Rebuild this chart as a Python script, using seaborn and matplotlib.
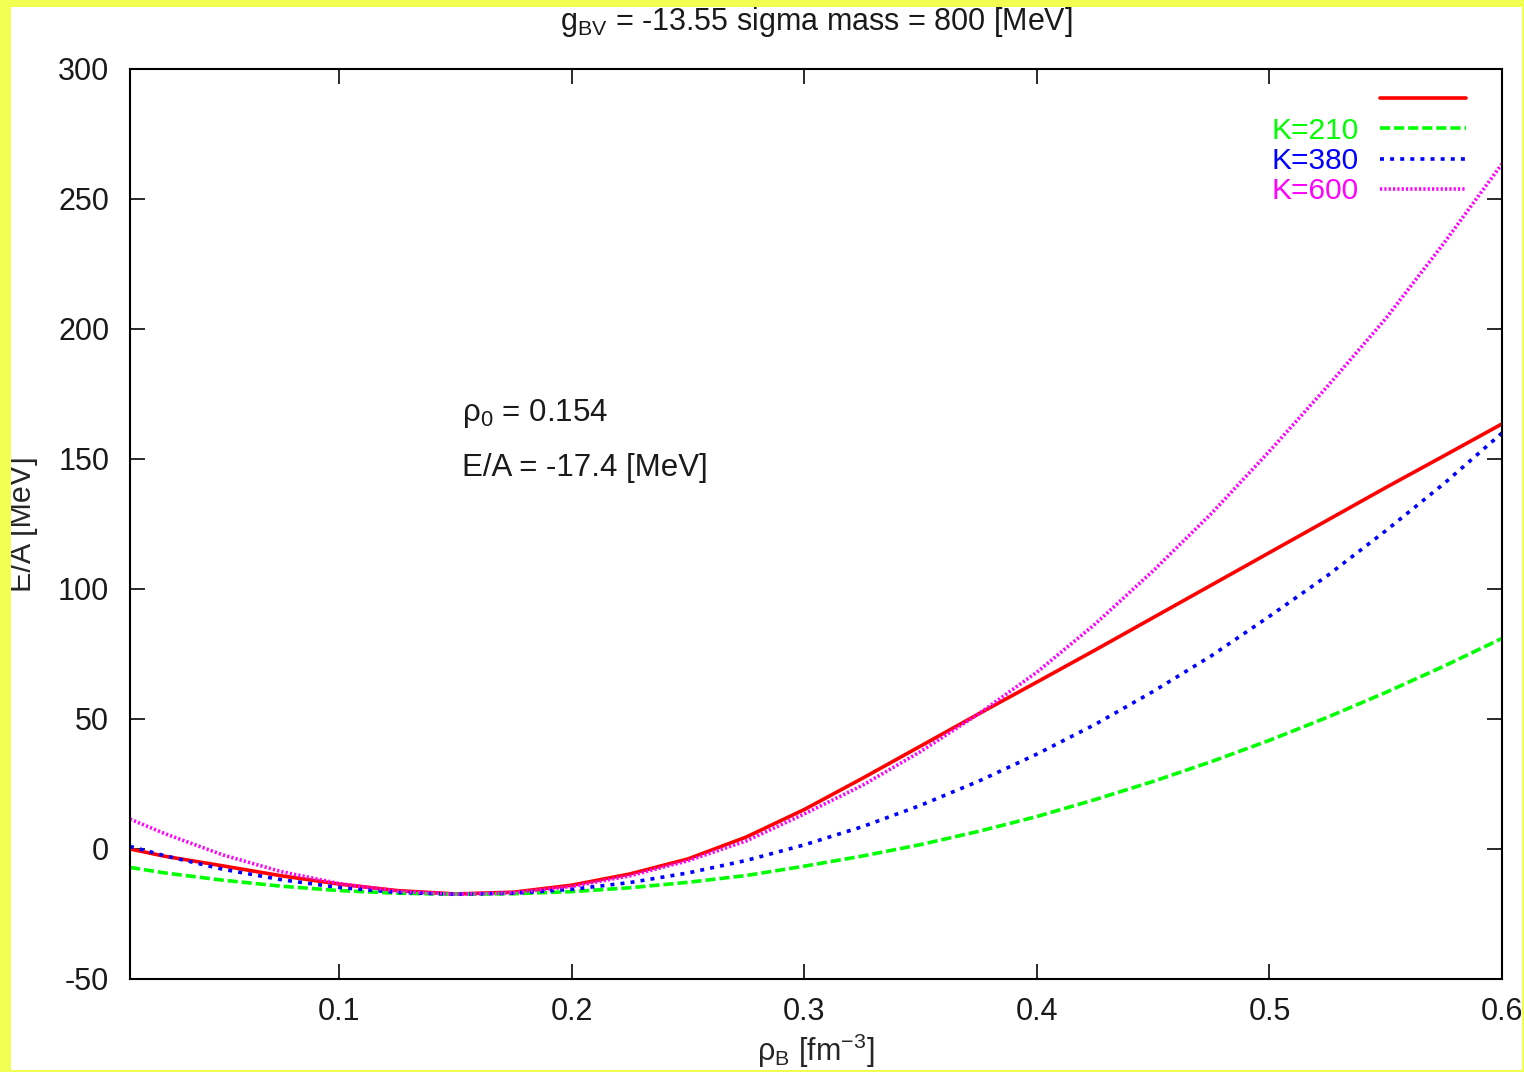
# curvas E/A vs densidad bariónica
import pandas as pd
import seaborn as sns
import matplotlib
matplotlib.use('Agg')
import matplotlib.pyplot as plt
from matplotlib.patches import Rectangle

# 1. Datos
rho = [0.01, 0.025, 0.05, 0.075, 0.1, 0.125, 0.15, 0.175, 0.2, 0.225, 0.25, 0.275,
       0.3, 0.325, 0.35, 0.375, 0.4, 0.425, 0.45, 0.475, 0.5, 0.525, 0.55, 0.575, 0.6]

ea_base = [0.0, -2.8, -6.5, -10.3, -13.5, -16.0, -17.3, -16.6, -13.9, -9.6, -3.8, 4.6,
           15.2, 27.2, 39.6, 52.0, 64.2, 76.5, 89.0, 101.5, 114.0, 126.5, 139.0, 151.2, 163.5]
ea_k210 = [-7.1, -9.2, -12.0, -14.3, -16.0, -17.0, -17.4, -17.2, -16.4, -14.9, -12.8, -10.2,
           -6.6, -2.7, 1.7, 6.8, 12.5, 19.0, 26.0, 33.6, 41.8, 50.7, 60.2, 70.3, 81.0]
ea_k380 = [1.0, -2.6, -7.8, -11.8, -14.8, -16.7, -17.4, -17.0, -15.5, -12.9, -9.2, -4.4,
           1.6, 8.6, 16.8, 26.1, 36.5, 47.9, 60.6, 74.3, 89.5, 105.2, 122.4, 140.5, 160.0]
ea_k600 = [11.5, 5.9, -2.3, -8.7, -13.3, -16.2, -17.4, -16.8, -14.4, -10.3, -4.5, 3.1,
           13.5, 24.5, 37.5, 52.0, 68.0, 86.5, 107.0, 129.0, 153.0, 178.0, 204.0, 233.0, 263.5]

curvas = ['base', 'K=210', 'K=380', 'K=600']
etiquetas = ['', 'K=210', 'K=380', 'K=600']
colores = ['#ff0000', '#00ff00', '#0000ff', '#ff00ff']

x_ticks = [0.1, 0.2, 0.3, 0.4, 0.5, 0.6]
x_labels = ['0.1', '0.2', '0.3', '0.4', '0.5', '0.6']
y_ticks = [-50, 0, 50, 100, 150, 200, 250, 300]
y_labels = ['-50', '0', '50', '100', '150', '200', '250', '300']

df = pd.DataFrame({
    'rho': rho * 4,
    'ea': ea_base + ea_k210 + ea_k380 + ea_k600,
    'curva': [c for c in curvas for _ in rho],
})

# 2. Estilo
sns.set_style('ticks')
plt.rcParams['font.family'] = ['Liberation Sans', 'DejaVu Sans']
plt.rcParams['mathtext.fontset'] = 'custom'
plt.rcParams['mathtext.rm'] = 'Liberation Sans'
plt.rcParams['mathtext.it'] = 'Liberation Sans:italic'
plt.rcParams['text.color'] = '#1a1a1a'

fig = plt.figure(figsize=(15.24, 10.72), dpi=100, facecolor='white')
ax = fig.add_axes([130 / 1524, 1 - 979 / 1072, 1372 / 1524, 910 / 1072])

trazos = {'base': '', 'K=210': (2.8, 1.1), 'K=380': (1.1, 1.7), 'K=600': (0.6, 0.6)}
sns.lineplot(data=df, x='rho', y='ea', hue='curva', style='curva',
             palette=dict(zip(curvas, colores)), dashes=trazos,
             linewidth=2.6, legend=False, sort=False, ax=ax)

ax.set_xlim(0.01, 0.6)
ax.set_ylim(-50, 300)
ax.set_xticks(x_ticks, x_labels)
ax.set_yticks(y_ticks, y_labels)
ax.tick_params(direction='in', length=11, width=1.3, top=True, right=True,
               labelsize=22, pad=13, colors='#1a1a1a')
ax.tick_params(axis='y', pad=15)
for s in ax.spines.values():
    s.set_linewidth(1.5)
    s.set_color('black')

ax.set_xlabel('ρ$_{\\rm B}$ [fm$^{-3}$]', fontsize=22, labelpad=3)
ax.set_ylabel('E/A [MeV]', fontsize=22, labelpad=14)
ax.set_title('g$_{\\rm BV}$ = -13.55 sigma mass = 800 [MeV]', fontsize=22, pad=28)

ax.text(0.1526, 167.5, 'ρ$_0$ = 0.154', fontsize=22.5, va='center')
ax.text(0.1526, 146.5, 'E/A = -17.4 [MeV]', fontsize=22.5, va='center')

# 3. Leyenda estilo gnuplot
ax.legend(ax.get_lines()[:4], etiquetas, loc='upper right',
          bbox_to_anchor=(0.974, 0.981), frameon=False, markerfirst=False,
          labelcolor=colores, fontsize=21.5, handlelength=2.9, handletextpad=0.7,
          labelspacing=0.08, borderpad=0, borderaxespad=0)

# 4. Marco amarillo
amarillo = '#f0ff50'
for r in [(0, 0, 11 / 1524, 1), (1522 / 1524, 0, 2 / 1524, 1),
          (0, 1 - 7 / 1072, 1, 7 / 1072), (0, 0, 1, 2 / 1072)]:
    fig.patches.append(Rectangle(r[:2], r[2], r[3], transform=fig.transFigure,
                                 facecolor=amarillo, edgecolor='none', zorder=10))

fig.savefig('out.png', dpi=100)
